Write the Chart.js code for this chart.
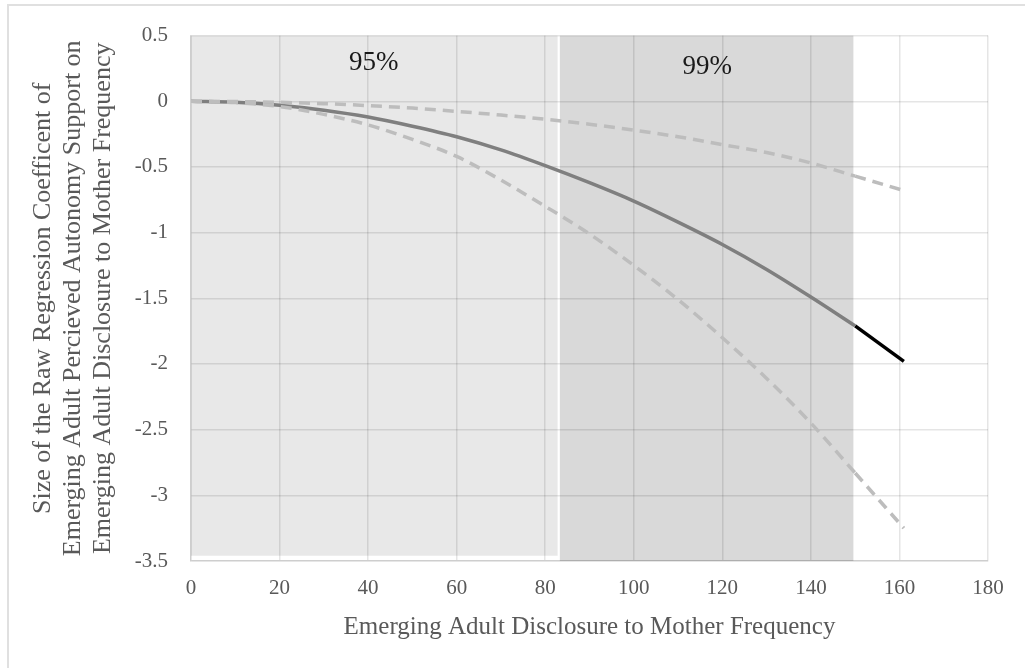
<!DOCTYPE html>
<html>
<head>
<meta charset="utf-8">
<script src="https://cdn.jsdelivr.net/npm/chart.js@4"></script>
<style>
  html, body { margin: 0; padding: 0; background: #ffffff; }
  #wrap { position: relative; width: 1025px; height: 668px; overflow: hidden; }
  #frame { position: absolute; left: 7px; top: 4px; width: 1100px; height: 700px;
           border-top: 2px solid #e0e0e0; border-left: 2px solid #e0e0e0; }
  canvas { position: absolute; left: 0; top: 0; }
</style>
</head>
<body>
<div id="wrap">
  <div id="frame"></div>
  <canvas id="c" width="1025" height="668"></canvas>
</div>
<script>
// ---- data ----
const xValues   = [0, 10, 20, 30, 40, 50, 60, 70, 80, 90, 100, 110, 120, 130, 140, 150];
const estimate  = [0, -0.008, -0.03, -0.068, -0.12, -0.19, -0.27, -0.37, -0.49, -0.62, -0.76, -0.92, -1.09, -1.28, -1.49, -1.71];
const upperCI   = [0, -0.002, -0.008, -0.018, -0.033, -0.052, -0.077, -0.105, -0.137, -0.175, -0.22, -0.27, -0.33, -0.39, -0.47, -0.57];
const lowerCI   = [0, -0.01, -0.04, -0.1, -0.18, -0.29, -0.42, -0.6, -0.8, -1.01, -1.25, -1.51, -1.8, -2.11, -2.45, -2.83];
const tailX     = [150, 161];
const tailEst   = [-1.71, -1.98];
const tailUpper = [-0.57, -0.68];
const tailLower = [-2.83, -3.25];

const regionLabels = ['95%', '99%'];
const regionStart  = [0, 83.3];
const regionEnd    = [82.8, 149.6];
const regionTop    = [0.5, 0.5];
const regionBottom = [-3.46, -3.5];
const regionLabelX = [41.3, 116.6];
const regionLabelY = [0.29, 0.26];

const xTicks = [0, 20, 40, 60, 80, 100, 120, 140, 160, 180];
const yTicks = [0.5, 0, -0.5, -1, -1.5, -2, -2.5, -3, -3.5];

const xTitle = 'Emerging Adult Disclosure to Mother Frequency';
const yTitle = ['Size of the Raw Regression Coefficent of',
                'Emerging Adult Percieved Autonomy Support on',
                'Emerging Adult Disclosure to Mother Frequency'];

function pts(xs, ys) { return xs.map((x, i) => ({ x: x, y: ys[i] })); }

const regionColors = ['#e8e8e8', '#d9d9d9'];

const regionPlugin = {
  id: 'regions',
  beforeDraw(chart) {
    const { ctx, scales: { x, y } } = chart;
    ctx.save();
    regionLabels.forEach((lab, i) => {
      const x0 = x.getPixelForValue(regionStart[i]);
      const x1 = x.getPixelForValue(regionEnd[i]);
      const y0 = y.getPixelForValue(regionTop[i]);
      const y1 = y.getPixelForValue(regionBottom[i]);
      ctx.fillStyle = regionColors[i];
      ctx.fillRect(x0, y0, x1 - x0, y1 - y0);
    });
    ctx.restore();
  },
  afterDatasetsDraw(chart) {
    const { ctx, scales: { x, y } } = chart;
    ctx.save();
    ctx.font = '27px "Liberation Serif"';
    ctx.fillStyle = '#1a1a1a';
    ctx.textAlign = 'center';
    ctx.textBaseline = 'middle';
    regionLabels.forEach((lab, i) => {
      ctx.fillText(lab, x.getPixelForValue(regionLabelX[i]), y.getPixelForValue(regionLabelY[i]));
    });
    ctx.restore();
  }
};

const dashed = { borderColor: '#bdbdbd', borderWidth: 3.5, borderDash: [11, 7], pointRadius: 0, showLine: true, fill: false, cubicInterpolationMode: 'monotone' };

new Chart(document.getElementById('c'), {
  type: 'scatter',
  data: {
    datasets: [
      Object.assign({ data: pts(xValues, upperCI) }, dashed),
      Object.assign({ data: pts(tailX, tailUpper) }, dashed),
      Object.assign({ data: pts(xValues, lowerCI) }, dashed),
      Object.assign({ data: pts(tailX, tailLower) }, dashed),
      { data: pts(xValues, estimate), borderColor: '#7f7f7f', borderWidth: 3.5, pointRadius: 0, showLine: true, fill: false, cubicInterpolationMode: 'monotone' },
      { data: pts(tailX, tailEst), borderColor: '#000000', borderWidth: 3.5, pointRadius: 0, showLine: true, fill: false }
    ]
  },
  options: {
    responsive: false,
    animation: false,
    layout: { padding: { left: 0, right: 37, top: 33, bottom: 0 } },
    plugins: { legend: { display: false }, tooltip: { enabled: false } },
    scales: {
      x: {
        type: 'linear', min: 0, max: 180,
        afterFit(s) { s.height = 107; },
        afterBuildTicks(s) { s.ticks = xTicks.map(v => ({ value: v })); },
        grid: { color: 'rgba(0,0,0,0.1)', lineWidth: 1.5, drawTicks: false },
        border: { color: 'rgba(0,0,0,0.1)', width: 1.5 },
        ticks: { padding: 15, color: '#595959', font: { family: 'Liberation Serif', size: 21 } },
        title: { display: true, text: xTitle, color: '#595959', padding: { top: 0, bottom: 26 },
                 font: { family: 'Liberation Serif', size: 25 } }
      },
      y: {
        type: 'linear', min: -3.5, max: 0.5,
        afterFit(s) { s.width = 191; },
        afterBuildTicks(s) { s.ticks = yTicks.map(v => ({ value: v })); },
        grid: { color: 'rgba(0,0,0,0.1)', lineWidth: 1.5, drawTicks: false },
        border: { color: 'rgba(0,0,0,0.1)', width: 1.5 },
        ticks: { padding: 23, color: '#595959', font: { family: 'Liberation Serif', size: 21 },
                 callback: (v) => String(v) },
        title: { display: true, text: yTitle, color: '#595959', padding: { top: 28, bottom: 0 },
                 font: { family: 'Liberation Serif', size: 26, lineHeight: 1.15 } }
      }
    }
  },
  plugins: [regionPlugin]
});
</script>
</body>
</html>
